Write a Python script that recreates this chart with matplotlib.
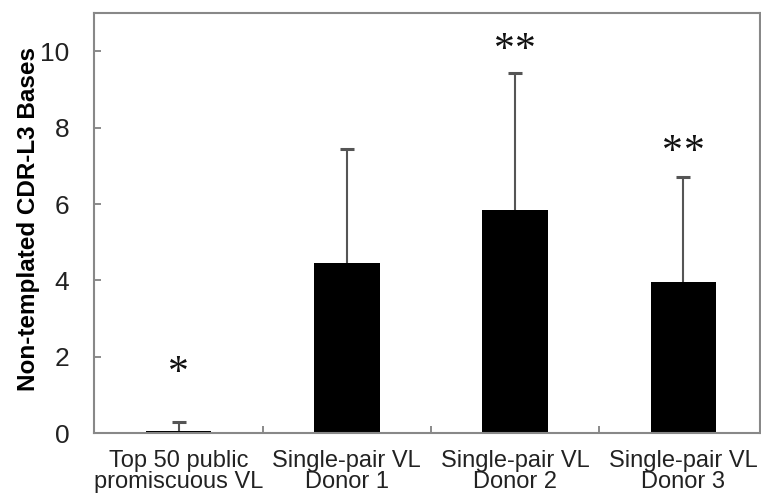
import numpy as np
import matplotlib
matplotlib.use("Agg")
import matplotlib.pyplot as plt
from matplotlib.ticker import FixedLocator

groups = ["Top 50 public\npromiscuous VL",
          "Single-pair VL\nDonor 1",
          "Single-pair VL\nDonor 2",
          "Single-pair VL\nDonor 3"]
means = [0.05, 4.46, 5.85, 3.97]
sd_upper = [0.25, 2.99, 3.57, 2.73]
n_stars = [1, 0, 2, 2]
star_y = [1.55, 0, 10.02, 7.34]

font = {'family': 'Liberation Sans', 'size': 14}
matplotlib.rc('font', **font)

fig = plt.figure(figsize=(7.61, 5.0), dpi=100)
ax = fig.add_axes([0.124, 0.1334, 0.8747, 0.8406])

x = np.arange(len(groups))
ax.bar(x, means, width=0.39, color='black', zorder=2)
# upper error only, no cap at the bar top
_, caps, _ = ax.errorbar(x, means, yerr=[np.zeros(len(means)), sd_upper],
                         fmt='none', ecolor='#555555', elinewidth=1.5,
                         capsize=5, capthick=2.2, zorder=3)
caps[0].set_visible(False)

# significance stars, spaced a little apart
for xi, n, sy in zip(x, n_stars, star_y):
    offsets = (np.arange(n) - (n - 1) / 2) * 15.5
    for off in offsets:
        ax.annotate("*", (xi, sy), xytext=(off, 0), textcoords='offset points',
                    ha='center', va='center', fontsize=30,
                    family='Liberation Serif', color='#111111')

ax.set_xlim(-0.5, 3.455)
ax.set_ylim(0, 11)
ax.set_yticks([0, 2, 4, 6, 8, 10])
ax.set_xticks(x)
ax.set_xticklabels(groups, fontsize=17, color='#222222', linespacing=0.95)
ax.xaxis.set_minor_locator(FixedLocator([0.5, 1.5, 2.5]))
ax.tick_params(axis='x', which='major', length=0, pad=12)
ax.tick_params(axis='x', which='minor', direction='in', length=5,
               color='#777777', width=1.2)
ax.tick_params(axis='y', direction='in', length=5, color='#777777',
               width=1.2, labelsize=19, labelcolor='#222222', pad=18)

for side in ['left', 'bottom', 'top', 'right']:
    ax.spines[side].set_color('#888888')
    ax.spines[side].set_linewidth(1.5)

ax.set_ylabel("Non-templated CDR-L3 Bases", fontsize=17.5, fontweight='bold')
ax.yaxis.set_label_coords(-0.082, 0.51)

fig.savefig("out.png", dpi=100)
